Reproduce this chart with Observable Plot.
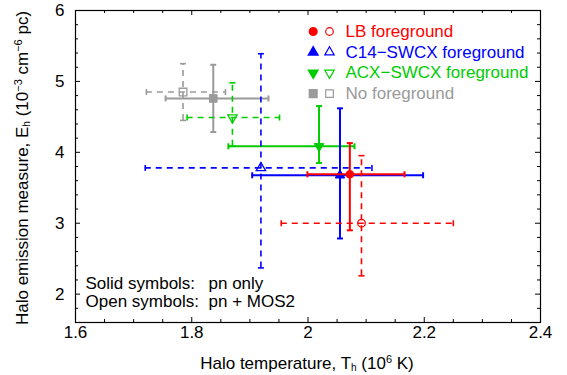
<!DOCTYPE html>
<html><head><meta charset="utf-8">
<script src="https://cdn.jsdelivr.net/npm/d3@7"></script>
<script src="https://cdn.jsdelivr.net/npm/@observablehq/plot@0.6"></script>
<style>
body{margin:0;background:#fff;}
svg{font-family:"Liberation Sans",Arial,Helvetica,sans-serif;}
</style>
</head><body><div id="chart"></div>
<script>
// ---- data ----
const series = ["LB foreground", "C14\u2212SWCX foreground", "ACX\u2212SWCX foreground", "No foreground"];
const colors = ["#ff0000", "#0000ff", "#00cc00", "#9a9a9a"];
// pn only (solid symbols)
const pnT    = [2.072, 2.055, 2.019, 1.837];
const pnTlo  = [1.999, 1.904, 1.863, 1.755];
const pnThi  = [2.166, 2.198, 2.080, 1.932];
const pnE    = [3.69, 3.676, 4.085, 4.76];
const pnElo  = [2.90, 2.785, 3.85, 4.286];
const pnEhi  = [4.13, 4.62, 4.652, 5.235];
// pn + MOS2 (open symbols)
const mosT   = [2.092, 1.919, 1.870, 1.785];
const mosTlo = [1.954, 1.720, 1.792, 1.722];
const mosThi = [2.250, 2.110, 1.951, 1.858];
const mosE   = [3.00, 3.78, 4.49, 4.85];
const mosElo = [2.258, 2.37, 4.085, 4.45];
const mosEhi = [3.953, 5.39, 4.98, 5.25];
// axes
const xTicks = [1.6, 1.8, 2.0, 2.2, 2.4];
const yTicks = [2, 3, 4, 5, 6];
const xDomain = [1.6, 2.4];
const yDomain = [1.6, 6];
const noteLines = [["Solid symbols:", "pn only"], ["Open symbols:", "pn + MOS2"]];

// ---- symbols ----
const triDown = {draw(ctx, size) {
  const y = -Math.sqrt(size / (Math.sqrt(3) * 3));
  ctx.moveTo(0, -2 * y);
  ctx.lineTo(-Math.sqrt(3) * y, y);
  ctx.lineTo(Math.sqrt(3) * y, y);
  ctx.closePath();
}};
const vcap = {draw(ctx, size) { const r = Math.sqrt(size / Math.PI); ctx.moveTo(0, -r); ctx.lineTo(0, r); }};
const hcap = {draw(ctx, size) { const r = Math.sqrt(size / Math.PI); ctx.moveTo(-r, 0); ctx.lineTo(r, 0); }};
const symbols = [d3.symbolCircle, d3.symbolTriangle, triDown, d3.symbolSquare];
const symR = [3.8, 3.5, 3.5, 4.3];

const FS = 17;
const W = 567, H = 375, mL = 75, mR = 27, mT = 10, mB = 53;
const pw = W - mL - mR, ph = H - mT - mB;

const rows = [];
for (let i = 0; i < 4; i++) {
  rows.push({i, open: true, T: mosT[i], Tlo: mosTlo[i], Thi: mosThi[i], E: mosE[i], Elo: mosElo[i], Ehi: mosEhi[i]});
  rows.push({i, open: false, T: pnT[i], Tlo: pnTlo[i], Thi: pnThi[i], E: pnE[i], Elo: pnElo[i], Ehi: pnEhi[i]});
}
// draw order: gray first, red last
const order = [3, 2, 1, 0];

const marks = [];
// ticks (inward, mirrored)
const xMinor = d3.range(1.6, 2.4001, 0.05).filter(v => !xTicks.some(t => Math.abs(t - v) < 1e-6));
const yMinor = d3.range(1.8, 6.0001, 0.2).filter(v => !yTicks.some(t => Math.abs(t - v) < 1e-6));
marks.push(Plot.ruleX(xTicks, {x: d => d, insetTop: ph - 5, stroke: "black"}));
marks.push(Plot.ruleX(xTicks, {x: d => d, insetBottom: ph - 5, stroke: "black"}));
marks.push(Plot.ruleX(xMinor, {x: d => d, insetTop: ph - 3, stroke: "black"}));
marks.push(Plot.ruleX(xMinor, {x: d => d, insetBottom: ph - 3, stroke: "black"}));
marks.push(Plot.ruleY(yTicks, {y: d => d, insetRight: pw - 5, stroke: "black"}));
marks.push(Plot.ruleY(yTicks, {y: d => d, insetLeft: pw - 5, stroke: "black"}));
marks.push(Plot.ruleY(yMinor, {y: d => d, insetRight: pw - 3, stroke: "black"}));
marks.push(Plot.ruleY(yMinor, {y: d => d, insetLeft: pw - 3, stroke: "black"}));
marks.push(Plot.axisX({ticks: xTicks, tickSize: 0, tickPadding: 3, label: null, fontSize: FS, tickFormat: d => String(d)}));
marks.push(Plot.axisY({ticks: yTicks, tickSize: 0, tickPadding: 11, label: null, fontSize: FS, tickFormat: d => String(d)}));

for (const k of order) {
  for (const r of rows.filter(d => d.i === k)) {
    const c = colors[k];
    const sw = r.open ? 1.6 : 2;
    const dash = r.open ? "6,5" : null;
    const data = [r];
    marks.push(Plot.ruleY(data, {y: "E", x1: "Tlo", x2: "Thi", stroke: c, strokeWidth: sw, strokeDasharray: dash}));
    marks.push(Plot.ruleX(data, {x: "T", y1: "Elo", y2: "Ehi", stroke: c, strokeWidth: sw, strokeDasharray: dash}));
    marks.push(Plot.dot(data, {x: "Tlo", y: "E", symbol: vcap, r: 3, stroke: c, strokeWidth: sw}));
    marks.push(Plot.dot(data, {x: "Thi", y: "E", symbol: vcap, r: 3, stroke: c, strokeWidth: sw}));
    marks.push(Plot.dot(data, {x: "T", y: "Elo", symbol: hcap, r: 3, stroke: c, strokeWidth: sw}));
    marks.push(Plot.dot(data, {x: "T", y: "Ehi", symbol: hcap, r: 3, stroke: c, strokeWidth: sw}));
    marks.push(Plot.dot(data, {x: "T", y: "E", symbol: symbols[k], r: symR[k],
      fill: r.open ? "none" : c, stroke: c, strokeWidth: r.open ? 1.3 : 1}));
  }
}

// legend
for (let i = 0; i < 4; i++) {
  const dy = 21 + 20.7 * i;
  marks.push(Plot.dot([0], {frameAnchor: "top-left", dx: 237.7, dy, symbol: symbols[i], r: symR[i], fill: colors[i], stroke: colors[i]}));
  marks.push(Plot.dot([0], {frameAnchor: "top-left", dx: 254, dy, symbol: symbols[i], r: symR[i], fill: "none", stroke: colors[i], strokeWidth: 1.2}));
  marks.push(Plot.text([series[i]], {frameAnchor: "top-left", dx: 270, dy, text: d => d, textAnchor: "start", lineAnchor: "middle", fill: colors[i], fontSize: FS}));
}
// note
noteLines.forEach((ln, j) => {
  const dy = -39 + 18.5 * j;
  marks.push(Plot.text([ln[0]], {frameAnchor: "bottom-left", dx: 10, dy, text: d => d, textAnchor: "start", lineAnchor: "middle", fill: "black", fontSize: FS}));
  marks.push(Plot.text([ln[1]], {frameAnchor: "bottom-left", dx: 133, dy, text: d => d, textAnchor: "start", lineAnchor: "middle", fill: "black", fontSize: FS}));
});
marks.push(Plot.frame({stroke: "black", strokeWidth: 1.2}));

const chart = Plot.plot({
  width: W, height: H,
  marginLeft: mL, marginRight: mR, marginTop: mT, marginBottom: mB,
  style: {fontFamily: '"Liberation Sans", Arial, sans-serif', fontSize: FS + "px", color: "black", background: "white"},
  x: {domain: xDomain},
  y: {domain: yDomain},
  marks
});
document.getElementById("chart").appendChild(chart);

const svg = d3.select(chart);
const xl = svg.append("text").attr("x", 307).attr("y", 369).attr("text-anchor", "middle")
  .attr("font-size", FS).attr("fill", "black");
xl.append("tspan").text("Halo temperature, T");
xl.append("tspan").attr("font-size", 10).attr("baseline-shift", "-2").text("h");
xl.append("tspan").text(" (10");
xl.append("tspan").attr("font-size", 11).attr("baseline-shift", "6").text("6");
xl.append("tspan").text(" K)");

const yl = svg.append("text").attr("transform", "translate(28,168) rotate(-90)").attr("text-anchor", "middle")
  .attr("font-size", FS).attr("fill", "black");
yl.append("tspan").text("Halo emission measure, E");
yl.append("tspan").attr("font-size", 10).attr("baseline-shift", "-2").text("h");
yl.append("tspan").text(" (10");
yl.append("tspan").attr("font-size", 11).attr("baseline-shift", "6").text("\u22123");
yl.append("tspan").text(" cm");
yl.append("tspan").attr("font-size", 11).attr("baseline-shift", "6").text("\u22126");
yl.append("tspan").text(" pc)");
</script>
</body></html>
